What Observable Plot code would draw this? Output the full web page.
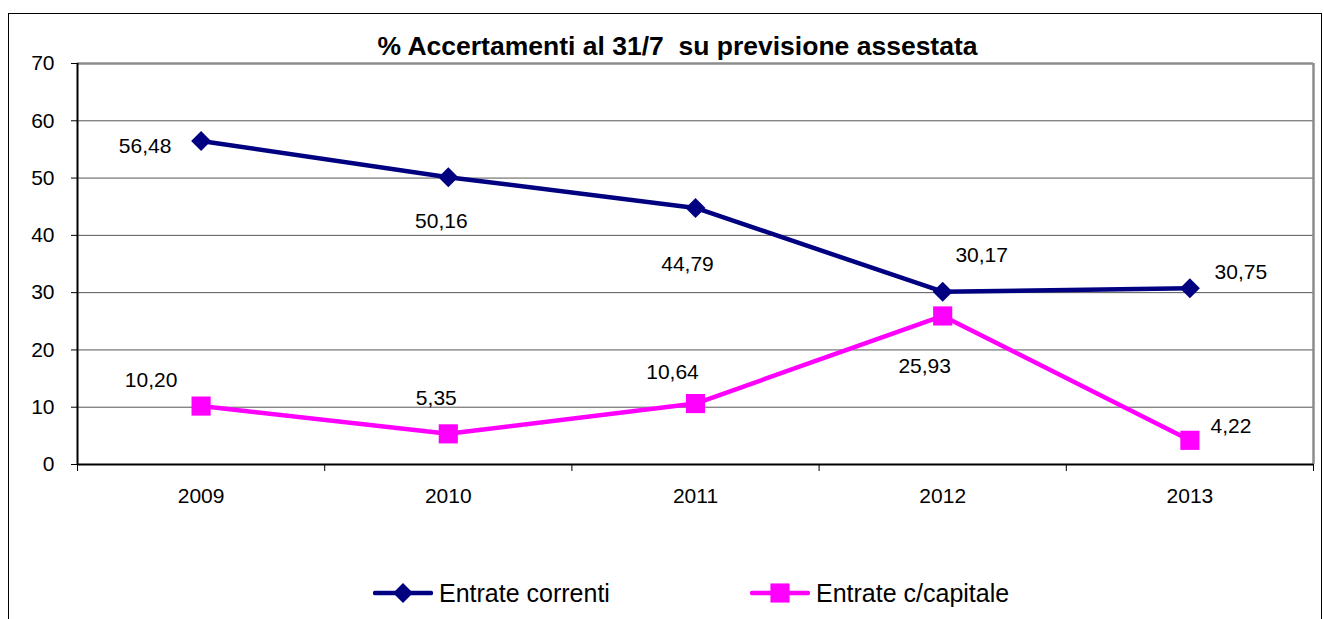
<!DOCTYPE html>
<html>
<head>
<meta charset="utf-8">
<script src="https://cdn.jsdelivr.net/npm/d3@7"></script>
<script src="https://cdn.jsdelivr.net/npm/@observablehq/plot@0.6"></script>
<style>
  html, body { margin: 0; padding: 0; background: #fff; overflow: hidden; width: 1324px; height: 619px; }
  body { position: relative; font-family: "Liberation Sans", Arial, sans-serif; }
  #box { position: absolute; left: 8px; top: 13px; width: 1312px; height: 700px; border: 1px solid #000; box-sizing: content-box; }
  #title { position: absolute; left: 0; width: 1355px; top: 33px; text-align: center; font-weight: bold; font-size: 26.5px; line-height: 26px; color: #000; white-space: pre; }
  #chart { position: absolute; left: 0; top: 0; }
  .leg { position: absolute; top: 578px; height: 30px; display: flex; align-items: center; font-size: 25px; color: #000; white-space: nowrap; }
  .leg svg { display: block; margin-right: 6px; }
</style>
</head>
<body>
<div id="box"></div>
<div id="title"></div>
<div id="chart"></div>
<div id="legend"></div>
<script>
// ---- data ----
const titleText = "% Accertamenti al 31/7  su previsione assestata";
const years = [2009, 2010, 2011, 2012, 2013];
const seriesNames = ["Entrate correnti", "Entrate c/capitale"];
const entrateCorrenti = [56.48, 50.16, 44.79, 30.17, 30.75];
const entrateCapitale = [10.20, 5.35, 10.64, 25.93, 4.22];
const yTicks = [0, 10, 20, 30, 40, 50, 60, 70];

// label placement offsets (px), one per point
const correntiLabelDx = [-56, -7, -8, 39, 51];
const correntiLabelDy = [5, 44, 56, -36, -16];
const capitaleLabelDx = [-50, -12, -23, -18, 41];
const capitaleLabelDy = [-26, -36, -31, 50, -14];

const colors = ["#000080", "#ff00ff"];
const symbols = ["diamond2", "square"];

const fmt = v => v.toFixed(2).replace(".", ",");
const rowsA = years.map((y, i) => ({year: y, value: entrateCorrenti[i]}));
const rowsB = years.map((y, i) => ({year: y, value: entrateCapitale[i]}));
const bounds = [years[0] - 0.5, ...years.map(y => y + 0.5)];

document.getElementById("title").textContent = titleText;

const labelMarks = [];
rowsA.forEach((d, i) => labelMarks.push(Plot.text([d], {x: "year", y: "value", text: d => fmt(d.value), dx: correntiLabelDx[i], dy: correntiLabelDy[i], fontSize: 21, fill: "#000"})));
rowsB.forEach((d, i) => labelMarks.push(Plot.text([d], {x: "year", y: "value", text: d => fmt(d.value), dx: capitaleLabelDx[i], dy: capitaleLabelDy[i], fontSize: 21, fill: "#000"})));

const chart = Plot.plot({
  width: 1324,
  height: 540,
  marginLeft: 77,
  marginRight: 11,
  marginTop: 63,
  marginBottom: 76,
  style: {fontFamily: "'Liberation Sans', Arial, sans-serif", background: "transparent", color: "#000"},
  x: {type: "linear", domain: [bounds[0], bounds[bounds.length - 1]]},
  y: {domain: [0, 70]},
  marks: [
    Plot.gridY(yTicks, {stroke: "#555", strokeOpacity: 1, strokeWidth: 1}),
    Plot.ruleY([70], {stroke: "#8c8c8c", strokeWidth: 2.5}),
    Plot.ruleX([bounds[bounds.length - 1]], {stroke: "#8c8c8c", strokeWidth: 2.5}),
    Plot.ruleX([bounds[0]], {stroke: "#000", strokeWidth: 2}),
    Plot.ruleY([0], {stroke: "#000", strokeWidth: 2}),
    Plot.axisY({ticks: yTicks, tickSize: 6, tickPadding: 17, fontSize: 21, label: null, stroke: "#000"}),
    Plot.axisX({ticks: bounds, tickSize: 7, tickFormat: () => "", label: null, stroke: "#000"}),
    Plot.axisX({ticks: years, tickSize: 0, tickPadding: 24, tickFormat: d => String(d), fontSize: 21, label: null}),
    Plot.line(rowsA, {x: "year", y: "value", stroke: colors[0], strokeWidth: 4.5}),
    Plot.line(rowsB, {x: "year", y: "value", stroke: colors[1], strokeWidth: 4.5}),
    Plot.dot(rowsA, {x: "year", y: "value", symbol: symbols[0], r: 9, fill: colors[0], stroke: "none"}),
    Plot.dot(rowsB, {x: "year", y: "value", symbol: symbols[1], r: 10.8, fill: colors[1], stroke: "none"}),
    ...labelMarks
  ]
});
document.getElementById("chart").appendChild(chart);

// legend
const legend = document.getElementById("legend");
const legLefts = [373, 750];
seriesNames.forEach((name, i) => {
  const item = document.createElement("div");
  item.className = "leg";
  item.style.left = legLefts[i] + "px";
  const ns = "http://www.w3.org/2000/svg";
  const sw = document.createElementNS(ns, "svg");
  sw.setAttribute("width", 60); sw.setAttribute("height", 30);
  const ln = document.createElementNS(ns, "line");
  ln.setAttribute("x1", 2); ln.setAttribute("x2", 58); ln.setAttribute("y1", 15); ln.setAttribute("y2", 15);
  ln.setAttribute("stroke", colors[i]); ln.setAttribute("stroke-width", 4.5); ln.setAttribute("stroke-linecap", "round");
  sw.appendChild(ln);
  const p = document.createElementNS(ns, "path");
  const sym = i === 0 ? d3.symbol(d3.symbolDiamond2, Math.PI * 81) : d3.symbol(d3.symbolSquare, Math.PI * 10.8 * 10.8);
  p.setAttribute("d", sym());
  p.setAttribute("transform", "translate(30,15)");
  p.setAttribute("fill", colors[i]);
  sw.appendChild(p);
  item.appendChild(sw);
  const t = document.createElement("span");
  t.textContent = name;
  item.appendChild(t);
  legend.appendChild(item);
});
</script>
</body>
</html>
